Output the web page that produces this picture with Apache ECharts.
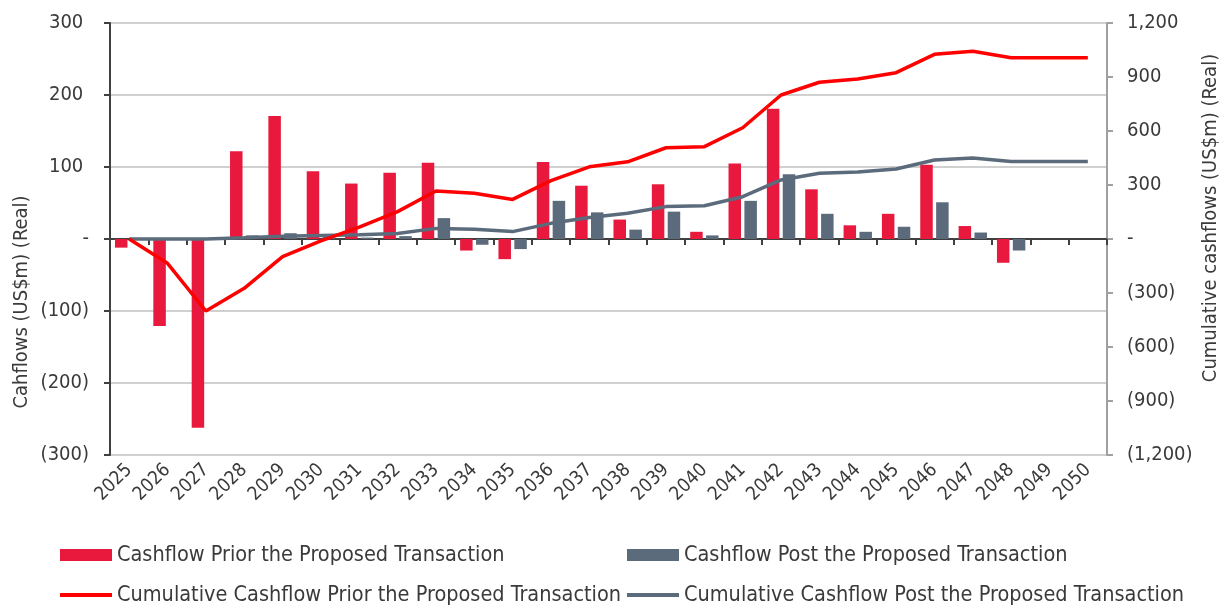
<!DOCTYPE html>
<html>
<head>
<meta charset="utf-8">
<script src="https://cdn.jsdelivr.net/npm/echarts@6/dist/echarts.min.js"></script>
<style>
  html, body { margin: 0; padding: 0; background: #fff; }
  #chart { width: 1227px; height: 606px; }
</style>
</head>
<body>
<div id="chart"></div>
<script>
// cashflow chart: bars on left axis, cumulative lines on right axis

const FONT = "DejaVu Sans Condensed, DejaVu Sans, sans-serif";
const TXT = "#3a3a3a";
const RED = "#e8193d";
const LINE_RED = "#ff0000";
const GREY = "#5b6b7c";

const years = ["2025", "2026", "2027", "2028", "2029", "2030", "2031", "2032", "2033", "2034",
  "2035", "2036", "2037", "2038", "2039", "2040", "2041", "2042", "2043", "2044",
  "2045", "2046", "2047", "2048", "2049", "2050"];

const cashflowPrior = [-12, -121, -262, 122, 171, 94, 77, 92, 106, -16,
  -28, 107, 74, 27, 76, 10, 105, 181, 69, 19,
  35, 103, 18, -33, 0, 0];

const cashflowPost = [0, 0, 0, 5, 8, 6, 2, 4, 29, -8,
  -14, 53, 37, 13, 38, 5, 53, 90, 35, 10,
  17, 51, 9, -16, 0, 0];

const cumulativePrior = [0, -135, -400, -274, -98, -10, 66, 152, 267, 254,
  220, 324, 401, 429, 507, 513, 618, 800, 871, 889,
  924, 1026, 1043, 1007, 1007, 1007];

const cumulativePost = [0, 0, 0, 7, 15, 20, 24, 31, 59, 54,
  41, 87, 120, 143, 180, 185, 235, 328, 365, 372,
  389, 439, 450, 430, 430, 430];

const NAMES = {
  cfPrior: "Cashflow Prior the Proposed Transaction",
  cfPost: "Cashflow Post the Proposed Transaction",
  cumPrior: "Cumulative Cashflow Prior the Proposed Transaction",
  cumPost: "Cumulative Cashflow Post the Proposed Transaction",
};

// accounting style: 1,200 / (300) / -
function acct(v, padPos) {
  if (v === 0) return "-";
  const s = Math.abs(v).toLocaleString("en-US");
  return v < 0 ? "(" + s + ")" : s + (padPos ? " " : "");
}

const chart = echarts.init(document.getElementById("chart"));

const legendText = { fontFamily: FONT, fontSize: 21.5, color: TXT, lineHeight: 22 };
// one legend per item so the two columns line up like the original
function leg(name, left, top, h) {
  return { left, top, icon: "rect", itemWidth: 52, itemHeight: h, data: [name],
    textStyle: legendText, padding: 0 };
}

chart.setOption({
  animation: false,
  textStyle: { fontFamily: FONT },
  grid: { left: 110, right: 120, top: 23, bottom: 151 },
  legend: [
    leg(NAMES.cfPrior, 60, 544, 12),
    leg(NAMES.cumPrior, 60, 584, 4),
    leg(NAMES.cfPost, 627, 544, 12),
    leg(NAMES.cumPost, 627, 584, 4),
  ],
  graphic: [
    { type: "text", x: 22, y: 302, rotation: Math.PI / 2,
      style: { text: "Cahflows (US$m) (Real)", font: "20px " + FONT, fill: TXT,
        align: "center", verticalAlign: "middle" } },
    { type: "text", x: 1211, y: 218, rotation: Math.PI / 2,
      style: { text: "Cumulative cashflows (US$m) (Real)", font: "20px " + FONT, fill: TXT,
        align: "center", verticalAlign: "middle" } },
  ],
  xAxis: [
    { // labels along the bottom
      type: "category", data: years, position: "bottom",
      axisLine: { show: false, onZero: false }, axisTick: { show: false },
      axisLabel: { rotate: 45, margin: 12, fontSize: 19, color: TXT, interval: 0, fontFamily: FONT },
    },
    { // zero line with ticks
      type: "category", data: years, position: "bottom",
      axisLine: { onZero: true, lineStyle: { color: "#404040", width: 2 } },
      axisTick: { show: true, length: 6, lineStyle: { color: "#404040", width: 2 } },
      axisLabel: { show: false },
    },
  ],
  yAxis: [
    { type: "value", min: -300, max: 300, interval: 100, position: "left",
      axisLine: { show: true, lineStyle: { color: "#404040", width: 2 } },
      axisTick: { show: true, length: 6, lineStyle: { color: "#404040", width: 2 } },
      axisLabel: { fontSize: 20, color: TXT, margin: 21, fontFamily: FONT, formatter: (v) => acct(v, true) },
      splitLine: { lineStyle: { color: "#d0d0d0", width: 2 } },
    },
    { type: "value", min: -1200, max: 1200, interval: 300, position: "right",
      axisLine: { show: true, lineStyle: { color: "#a0a0a0", width: 2 } },
      axisTick: { show: true, length: 6, lineStyle: { color: "#a0a0a0", width: 2 } },
      axisLabel: { fontSize: 20, color: TXT, margin: 20, fontFamily: FONT, formatter: (v) => acct(v, false) },
      splitLine: { show: false },
    },
  ],
  series: [
    { name: NAMES.cfPrior, type: "bar", data: cashflowPrior, yAxisIndex: 0,
      barWidth: 12.5, barGap: "27%", itemStyle: { color: RED } },
    { name: NAMES.cfPost, type: "bar", data: cashflowPost, yAxisIndex: 0,
      barWidth: 12.5, barGap: "27%", itemStyle: { color: GREY } },
    { name: NAMES.cumPrior, type: "line", data: cumulativePrior, yAxisIndex: 1,
      symbol: "none", z: 5, lineStyle: { color: LINE_RED, width: 3.5 }, itemStyle: { color: LINE_RED } },
    { name: NAMES.cumPost, type: "line", data: cumulativePost, yAxisIndex: 1,
      symbol: "none", z: 4, lineStyle: { color: GREY, width: 3.5 }, itemStyle: { color: GREY } },
  ],
});
</script>
</body>
</html>
